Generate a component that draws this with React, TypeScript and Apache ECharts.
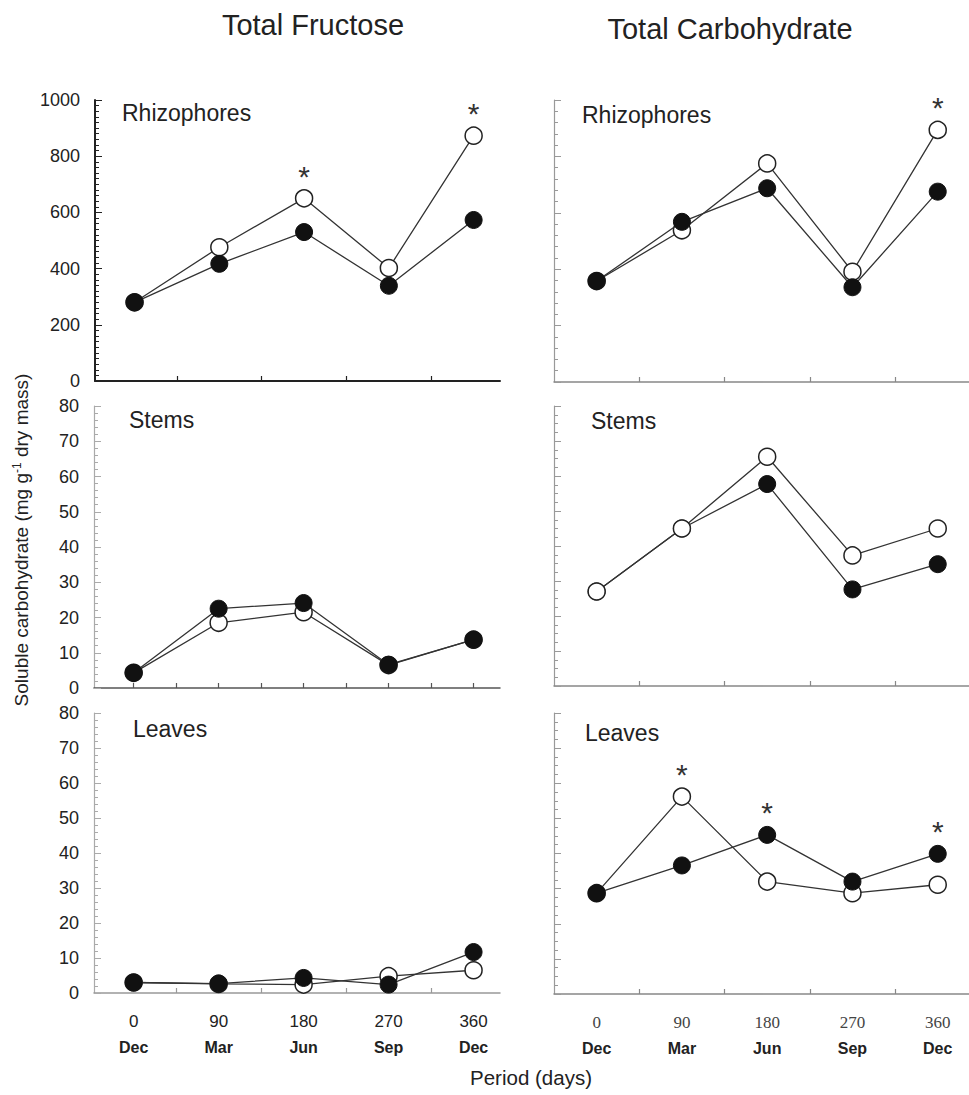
import React, { useEffect, useRef } from "react";
import * as echarts from "echarts";

const days = [0, 90, 180, 270, 360];
const months = ["Dec", "Mar", "Jun", "Sep", "Dec"];
const midTicks = [45, 135, 225, 315];
const allTicks = [0, 45, 90, 135, 180, 225, 270, 315, 360];

// Total Fructose (left column)
const fruRhizoOpen = [280, 476, 650, 402, 873];
const fruRhizoFilled = [280, 417, 530, 339, 573];
const fruStemsOpen = [4.3, 18.5, 21.5, 6.5, 13.7];
const fruStemsFilled = [4.3, 22.5, 24.1, 6.6, 13.7];
const fruLeavesOpen = [3.0, 2.6, 2.4, 4.8, 6.5];
const fruLeavesFilled = [3.0, 2.7, 4.3, 2.4, 11.7];

// Total Carbohydrate (right column)
const carbRhizoOpen = [358, 538, 775, 391, 894];
const carbRhizoFilled = [358, 568, 687, 336, 675];
const carbStemsOpen = [27, 45, 65.5, 37.3, 45];
const carbStemsFilled = [27, 45, 57.7, 27.6, 34.8];
const carbLeavesOpen = [28.7, 56.2, 32, 28.7, 31.1];
const carbLeavesFilled = [28.7, 36.6, 45.3, 32, 39.9];

// indices of significant differences (asterisks)
const starsFruRhizoOpen = [2, 4];
const starsCarbRhizoOpen = [4];
const starsCarbLeavesOpen = [1];
const starsCarbLeavesFilled = [2, 4];

const SANS = "'Liberation Sans', Arial, Helvetica, sans-serif";
const SERIF = "'Liberation Serif', 'Times New Roman', serif";

function App() {
  const ref = useRef<HTMLDivElement>(null);
  useEffect(() => {
    if (!ref.current) return;
    const chart = echarts.init(ref.current, undefined, { renderer: "svg" });

    const grids = [
      { left: 95, top: 100, width: 405, height: 281 },
      { left: 94, top: 406, width: 406, height: 282 },
      { left: 94, top: 713, width: 406, height: 280 },
      { left: 554, top: 100, width: 415, height: 282 },
      { left: 554, top: 406, width: 415, height: 280 },
      { left: 554, top: 713, width: 415, height: 281 },
    ];

    const mkX = (i: number, left: boolean, bottom: boolean, ticks: number[], color: string, width: number) => ({
      type: "value",
      gridIndex: i,
      min: left ? -42 : -45,
      max: left ? 388 : 393,
      splitLine: { show: false },
      axisLine: { show: true, onZero: false, lineStyle: { color, width } },
      axisTick: { show: true, inside: true, length: 5, customValues: ticks, lineStyle: { color, width: 1.2 } },
      axisLabel: bottom
        ? {
            show: true,
            customValues: days,
            margin: 15,
            fontFamily: left ? SANS : SERIF,
            fontSize: 17,
            color: left ? "#222" : "#444",
            lineHeight: 26,
            formatter: (v: number) => {
              const idx = days.indexOf(v);
              return `${v}\n{m|${months[idx]}}`;
            },
            rich: {
              m: { fontFamily: SANS, fontWeight: "bold", fontSize: 16, color: "#222", lineHeight: 26 },
            },
          }
        : { show: false },
    });

    const mkY = (i: number, max: number, interval: number, minorSplit: number, showLabels: boolean, color: string, width: number) => ({
      type: "value",
      gridIndex: i,
      min: 0,
      max,
      interval,
      splitLine: { show: false },
      axisLine: { show: true, onZero: false, lineStyle: { color, width } },
      axisTick: { show: true, inside: true, length: 7, lineStyle: { color, width: 1 } },
      minorTick: { show: true, splitNumber: minorSplit, length: 4, lineStyle: { color, width: 1 } },
      axisLabel: showLabels
        ? {
            show: true,
            margin: 15,
            fontFamily: SANS,
            fontSize: 18,
            color: "#222",
            formatter: (v: number) => String(v),
          }
        : { show: false },
    });

    const xAxis = [
      mkX(0, true, false, midTicks, "#222", 2),
      mkX(1, true, false, allTicks, "#555", 1.5),
      mkX(2, true, true, midTicks, "#999", 1.5),
      mkX(3, false, false, midTicks, "#888", 1.5),
      mkX(4, false, false, midTicks, "#888", 1.5),
      mkX(5, false, true, midTicks, "#888", 1.5),
    ];
    const yAxis = [
      mkY(0, 1000, 200, 10, true, "#222", 2),
      mkY(1, 80, 10, 5, true, "#aaa", 1.2),
      mkY(2, 80, 10, 5, true, "#aaa", 1.2),
      mkY(3, 1000, 200, 5, false, "#999", 1.2),
      mkY(4, 80, 10, 4, false, "#999", 1.2),
      mkY(5, 80, 10, 4, false, "#999", 1.2),
    ];

    const mkData = (vals: number[], stars: number[]) =>
      vals.map((v, k) =>
        stars.includes(k)
          ? {
              value: [days[k], v],
              label: {
                show: true,
                position: "top",
                distance: -2,
                formatter: "*",
                fontFamily: SANS,
                fontSize: 30,
                color: "#333",
              },
            }
          : { value: [days[k], v] }
      );

    const mkSeries = (i: number, vals: number[], open: boolean, stars: number[], z: number) => ({
      type: "line",
      xAxisIndex: i,
      yAxisIndex: i,
      z,
      data: mkData(vals, stars),
      symbol: "circle",
      symbolSize: 17,
      showAllSymbol: true,
      lineStyle: { color: "#333", width: 1.3 },
      itemStyle: open
        ? { color: "#ffffff", borderColor: "#222", borderWidth: 1.5 }
        : { color: "#111111", borderColor: "#111", borderWidth: 1 },
      emphasis: { disabled: true },
      label: { show: false },
    });

    const series = [
      mkSeries(0, fruRhizoOpen, true, starsFruRhizoOpen, 2),
      mkSeries(0, fruRhizoFilled, false, [], 3),
      mkSeries(1, fruStemsOpen, true, [], 2),
      mkSeries(1, fruStemsFilled, false, [], 3),
      mkSeries(2, fruLeavesOpen, true, [], 2),
      mkSeries(2, fruLeavesFilled, false, [], 3),
      mkSeries(3, carbRhizoOpen, true, starsCarbRhizoOpen, 2),
      mkSeries(3, carbRhizoFilled, false, [], 3),
      mkSeries(4, carbStemsFilled, false, [], 2),
      mkSeries(4, carbStemsOpen, true, [], 3),
      mkSeries(5, carbLeavesOpen, true, starsCarbLeavesOpen, 2),
      mkSeries(5, carbLeavesFilled, false, starsCarbLeavesFilled, 3),
    ];

    const txt = (x: number, y: number, text: string, fontSize: number, align = "left") => ({
      type: "text",
      x,
      y,
      style: {
        text,
        fontFamily: SANS,
        fontSize,
        fill: "#222",
        align,
        verticalAlign: "middle",
      },
    });

    const graphic = [
      txt(313, 25, "Total Fructose", 29, "center"),
      txt(730, 29, "Total Carbohydrate", 29, "center"),
      txt(122, 113, "Rhizophores", 23),
      txt(129, 420, "Stems", 23),
      txt(133, 729, "Leaves", 23),
      txt(582, 115, "Rhizophores", 23),
      txt(591, 421, "Stems", 23),
      txt(585, 733, "Leaves", 23),
      {
        type: "text",
        x: 21,
        y: 540,
        rotation: Math.PI / 2,
        style: {
          text: "Soluble carbohydrate (mg g{sup|-1} dry mass)",
          fontFamily: SANS,
          fontSize: 19,
          fill: "#222",
          align: "center",
          verticalAlign: "middle",
          rich: { sup: { fontSize: 12, verticalAlign: "top", padding: [0, 0, 8, 0], fontFamily: SANS, fill: "#222" } },
        },
      },
      txt(531, 1077, "Period (days)", 20.5, "center"),
    ];

    chart.setOption({
      animation: false,
      backgroundColor: "#ffffff",
      grid: grids,
      xAxis,
      yAxis,
      series,
      graphic,
    });
    return () => chart.dispose();
  }, []);

  return (
    <div
      ref={ref}
      style={{ position: "absolute", left: 0, top: 0, width: 969, height: 1095, background: "#fff" }}
    />
  );
}

export default App;
